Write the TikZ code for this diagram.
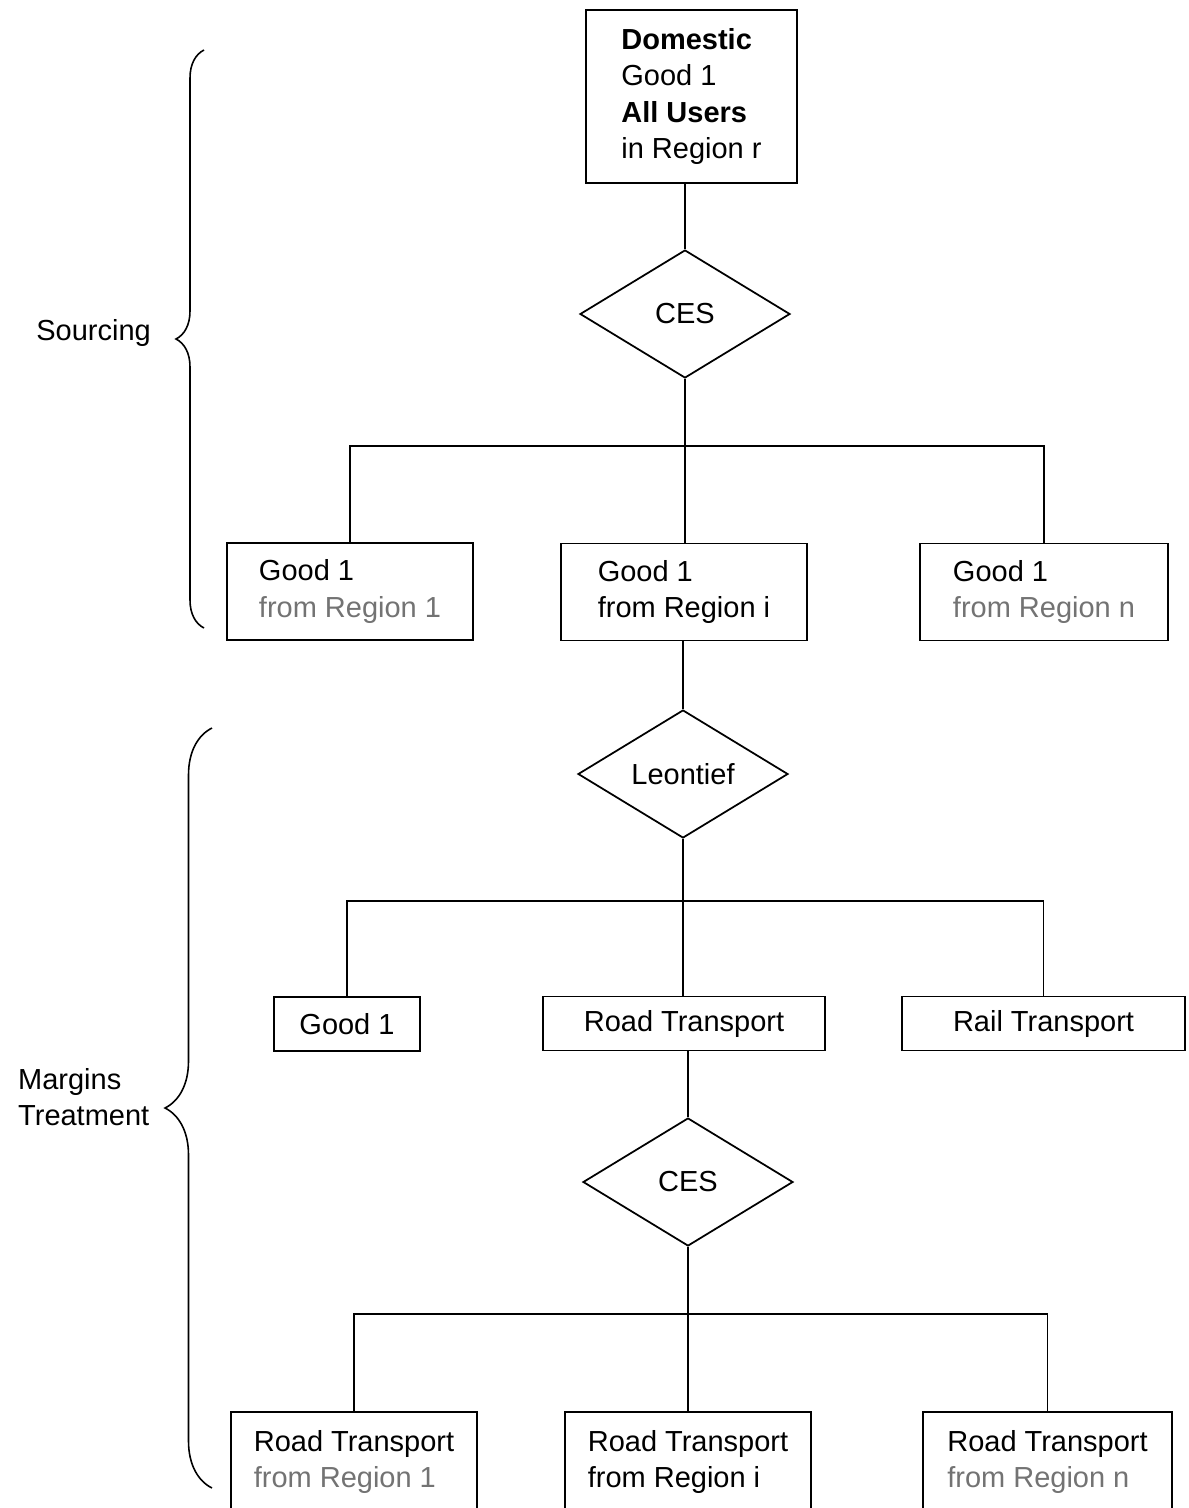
\documentclass[tikz,border=0pt]{standalone}
\usepackage{fontspec}
\setmainfont{Liberation Sans}
\usetikzlibrary{shapes.geometric, decorations.pathreplacing}

\begin{document}
\begin{tikzpicture}[
    x=0.02cm, y=-0.02cm,
    every node/.style={font=\fontsize{16.5}{20.5}\selectfont},
    box/.style={rectangle, draw, line width=1pt, align=left, minimum width=4.92cm, minimum height=1.94cm, inner sep=2pt},
    onebox/.style={rectangle, draw, line width=1pt, minimum height=1.08cm, inner sep=2pt},
    nest/.style={diamond, draw, line width=1pt, aspect=1.64, inner sep=0pt, minimum width=4.2cm, minimum height=2.56cm},
    link/.style={line width=1pt},
    curly/.style={decorate, line width=0.9pt}
]
\useasboundingbox (0,0) rectangle (1188,1508);

% Sourcing level
\node[box, minimum width=4.22cm, minimum height=3.46cm] (dom) at (691.5,96.5) {%
    \textbf{Domestic}\\ Good 1\\ \textbf{All Users}\\ in Region r};
\node[nest] (ces1) at (685,314) {CES};
\coordinate (busA) at (685,446);

\node[box] (gA) at (350,591.5) {Good 1\\ \textcolor{black!55}{from Region 1}};
\node[box] (gB) at (684,592) {Good 1\\ from Region i};
\node[box, minimum width=4.96cm] (gC) at (1044,592) {Good 1\\ \textcolor{black!55}{from Region n}};

\draw[link] (ces1.north |- dom.south) -- (ces1.north);
\draw[link] (ces1.south) -- (busA);
\draw[link] (gA.north) |- (busA) -| (gC.north);
\draw[link] (busA) -- (busA |- gB.north);

% Margins level
\node[nest] (leo) at (683,774) {Leontief};
\coordinate (busB) at (683,901);

\node[onebox, minimum width=2.92cm] (good) at (347,1024) {Good 1};
\node[onebox, minimum width=5.64cm] (road) at (684,1023.5) {Road Transport};
\node[onebox, minimum width=5.66cm] (rail) at (1043.5,1023.5) {Rail Transport};

\draw[link] (leo.north |- gB.south) -- (leo.north);
\draw[link] (leo.south) -- (busB);
\draw[link] (good.north) |- (busB) -| (rail.north);
\draw[link] (busB) -- (busB |- road.north);

\node[nest] (ces2) at (688,1182) {CES};
\coordinate (busC) at (688,1314);

\node[box, minimum height=2cm] (rA) at (354,1462) {Road Transport\\ \textcolor{black!55}{from Region 1}};
\node[box, minimum height=2cm] (rB) at (688,1462) {Road Transport\\ from Region i};
\node[box, minimum height=2cm, minimum width=4.98cm] (rC) at (1047.5,1462) {Road Transport\\ \textcolor{black!55}{from Region n}};

\draw[link] (ces2.north |- road.south) -- (ces2.north);
\draw[link] (ces2.south) -- (busC);
\draw[link] (rA.north) |- (busC) -| (rC.north);
\draw[link] (busC) -- (busC |- rB.north);

% Braces on the left
\draw[curly, decoration={brace, amplitude=0.56cm}] (204,628) -- (204,50);
\node[anchor=east] (src) at (157,333) {Sourcing};

\draw[curly, decoration={brace, amplitude=0.94cm}] (212,1488) -- (212,728);
\node[anchor=west, align=left] (mrg) at (12,1097) {Margins\\ Treatment};

\end{tikzpicture}
\end{document}
